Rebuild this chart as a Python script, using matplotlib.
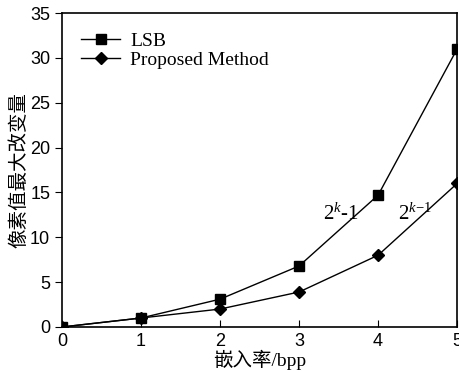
import matplotlib
matplotlib.use("Agg")
import matplotlib.pyplot as plt

# embedding rate (bpp) vs max pixel change
rates = [0, 1, 2, 3, 4, 5]
lsb = [0, 1, 3.1, 6.8, 14.7, 31]
proposed = [0, 1, 2, 3.9, 8, 16]
xticks = [0, 1, 2, 3, 4, 5]
yticks = [0, 5, 10, 15, 20, 25, 30, 35]

plt.rcParams["mathtext.fontset"] = "custom"
plt.rcParams["mathtext.rm"] = "Liberation Serif"
plt.rcParams["mathtext.it"] = "Liberation Serif:italic"

serif = ["Liberation Serif", "Noto Sans CJK SC"]

fig = plt.figure(figsize=(4.59, 3.72), dpi=100)
ax = fig.add_axes([0.135, 0.121, 0.861, 0.844])

ax.plot(rates, lsb, color="black", lw=1, marker="s", ms=7, label="LSB")
ax.plot(rates, proposed, color="black", lw=1, marker="D", ms=6, label="Proposed Method")

ax.set_xlim(0, 5)
ax.set_ylim(0, 35)
ax.set_xticks(xticks)
ax.set_yticks(yticks)
ax.tick_params(axis="x", direction="in", length=5, labelsize=13, pad=4)
ax.tick_params(axis="y", direction="out", length=5, labelsize=13)
for lab in ax.get_xticklabels() + ax.get_yticklabels():
    lab.set_family("Liberation Sans")
for sp in ax.spines.values():
    sp.set_linewidth(1.2)

ax.set_xlabel("嵌入率/bpp", family=serif, fontsize=14, labelpad=0)
ax.set_ylabel("像素值最大改变量", family=serif, fontsize=14, labelpad=1)

ax.text(3.3, 12.0, r"2$^{\mathit{k}}$-1", family="Liberation Serif", fontsize=15)
ax.text(4.25, 12.0, r"2$^{\mathit{k}\mathrm{-1}}$", family="Liberation Serif", fontsize=15)

ax.legend(loc="upper left", frameon=False, prop={"family": "Liberation Serif", "size": 14},
          handlelength=2.0, handletextpad=0.5, labelspacing=0.05, borderaxespad=0.6)

fig.savefig("out.png", dpi=100)
